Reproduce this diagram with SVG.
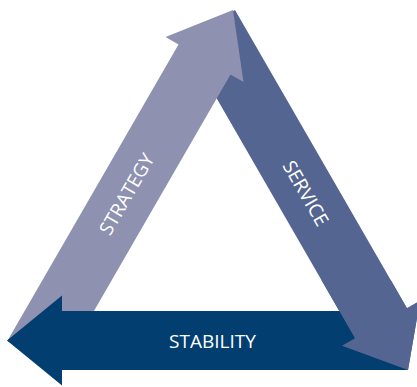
<svg xmlns="http://www.w3.org/2000/svg" xmlns:xlink="http://www.w3.org/1999/xlink" width="417" height="387" viewBox="0 0 417 387">
  <style>
    .lbl { font-family: "Open Sans", "Noto Sans", "DejaVu Sans", sans-serif; font-size: 19px; fill: #ffffff; text-anchor: middle; }
    .strategy { fill: #8E91B0; }
    .service { fill: #536590; }
    .stability { fill: #023F70; }
  </style>
  <defs>
    <polygon id="serviceShape" points="235,10 407,308.2 420,300.7 408,370 342,345.7 355,338.2 183,40"/>
    <clipPath id="serviceTipClip">
      <rect x="300" y="280" width="117" height="107"/>
    </clipPath>
  </defs>
  <rect width="417" height="387" fill="#ffffff"/>
  <g id="service">
    <use xlink:href="#serviceShape" class="service"/>
    <text class="lbl" transform="translate(306,193) rotate(60)" x="0" y="7">SERVICE</text>
  </g>
  <g id="strategy">
    <polygon class="strategy" points="233,10 243.5,81.9 230.5,74.4 59.3,371 7.3,341 178.5,44.4 165.5,36.9"/>
    <text class="lbl" transform="translate(126.5,194) rotate(-60)" x="0" y="7">STRATEGY</text>
  </g>
  <g id="stability">
    <polygon class="stability" points="7,340.5 62,295.5 62,311 408,311 408,370 62,370 62,385.5"/>
    <text class="lbl" x="212.5" y="348">STABILITY</text>
  </g>
  <g id="service-tip-overlay">
    <use xlink:href="#serviceShape" class="service" clip-path="url(#serviceTipClip)"/>
  </g>
</svg>
